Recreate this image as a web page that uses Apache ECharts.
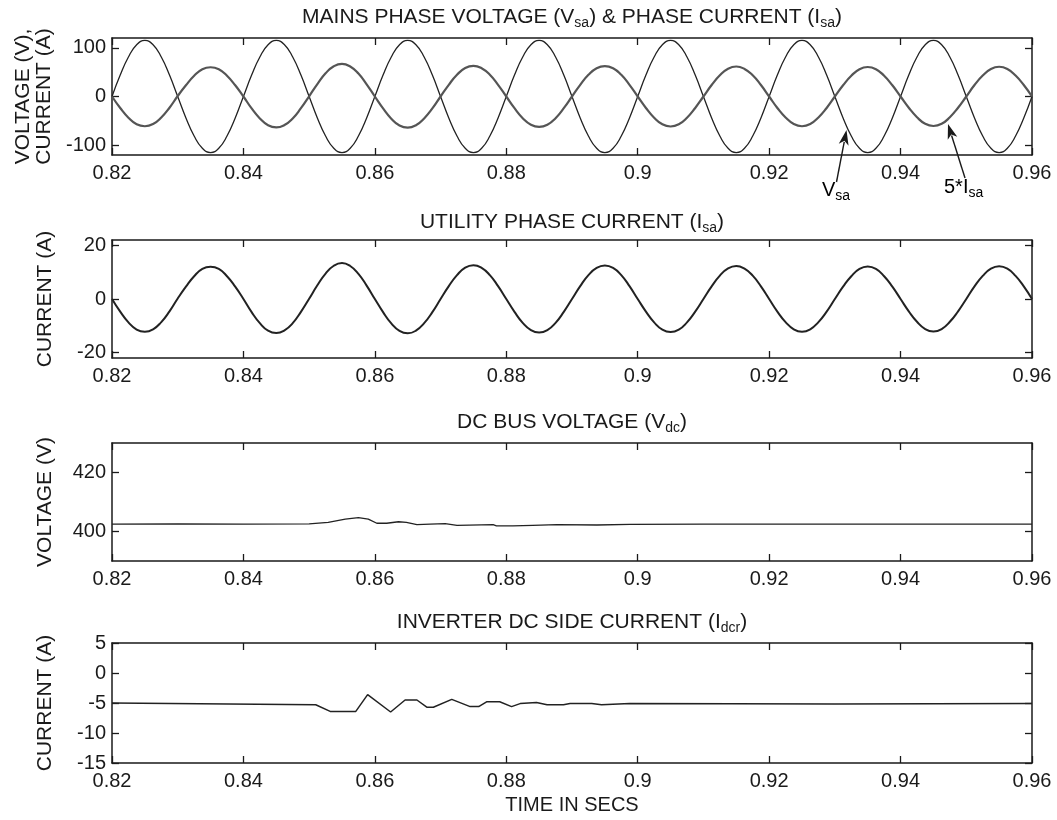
<!DOCTYPE html>
<html><head><meta charset="utf-8">
<script src="https://cdn.jsdelivr.net/npm/echarts@6/dist/echarts.min.js"></script>
<style>html,body{margin:0;padding:0;background:#fff}#c{width:1057px;height:820px}</style>
</head><body><div id="c"></div>
<script>
// ---- data ----
// sampled every 1.25 ms from 0.82 s
const sampleStart = 0.82;
const sampleStep = 0.00125;
const vsa = [
  0, 44, 81, 106, 115, 106, 81, 44, 0, -44, -81, -106, -115, -106, -81, -44,
  0, 44, 81, 106, 115, 106, 81, 44, 0, -44, -81, -106, -115, -106, -81, -44,
  0, 44, 81, 106, 115, 106, 81, 44, 0, -44, -81, -106, -115, -106, -81, -44,
  0, 44, 81, 106, 115, 106, 81, 44, 0, -44, -81, -106, -115, -106, -81, -44,
  0, 44, 81, 106, 115, 106, 81, 44, 0, -44, -81, -106, -115, -106, -81, -44,
  0, 44, 81, 106, 115, 106, 81, 44, 0, -44, -81, -106, -115, -106, -81, -44,
  0, 44, 81, 106, 115, 106, 81, 44, 0, -44, -81, -106, -115, -106, -81, -44,
  0
];
const isa = [
  0, -4.7, -8.7, -11.4, -12.2, -11.3, -8.6, -4.6, 0.2, 4.6, 8.5, 11.2, 12.0, 11.2, 8.5, 4.6,
  0, -4.9, -9.0, -11.8, -12.7, -11.7, -9.0, -4.8, 0.1, 5.1, 9.5, 12.4, 13.4, 12.3, 9.4, 5.0,
  0, -4.9, -9.1, -11.9, -12.8, -11.8, -9.0, -4.9, 0, 4.8, 8.9, 11.7, 12.6, 11.6, 8.9, 4.8,
  0, -4.8, -8.9, -11.6, -12.5, -11.6, -8.9, -4.8, 0, 4.8, 8.9, 11.6, 12.5, 11.6, 8.9, 4.8,
  0, -4.7, -8.7, -11.4, -12.3, -11.4, -8.7, -4.7, 0, 4.7, 8.7, 11.4, 12.3, 11.3, 8.7, 4.7,
  0, -4.7, -8.6, -11.3, -12.2, -11.3, -8.6, -4.7, 0, 4.6, 8.5, 11.2, 12.1, 11.2, 8.5, 4.6,
  0, -4.6, -8.5, -11.2, -12.1, -11.2, -8.5, -4.6, 0, 4.7, 8.6, 11.3, 12.2, 11.3, 8.6, 4.7,
  0
];
const isaScale = 5; // plotted as 5*Isa in the top panel

const vdcTime = [0.82, 0.83, 0.84, 0.85, 0.8529, 0.8555, 0.8575, 0.8590, 0.8603, 0.8618, 0.8636, 0.8648, 0.8664, 0.8684, 0.8707, 0.8725, 0.878, 0.8785, 0.881, 0.884, 0.8877, 0.8938, 0.8988, 0.91, 0.93, 0.95, 0.96];
const vdcVal  = [402.5, 402.6, 402.5, 402.6, 403.1, 404.2, 404.7, 404.2, 402.8, 402.8, 403.3, 403.1, 402.3, 402.5, 402.7, 402.1, 402.3, 401.9, 401.9, 402.1, 402.3, 402.2, 402.4, 402.5, 402.5, 402.5, 402.5];

const idcTime = [0.82, 0.8203, 0.851, 0.8532, 0.8571, 0.8589, 0.8624, 0.8646, 0.8664, 0.8679, 0.8689, 0.8717, 0.8745, 0.8758, 0.8770, 0.8790, 0.8808, 0.8821, 0.8846, 0.8862, 0.8887, 0.8897, 0.8930, 0.8945, 0.8988, 0.93, 0.96];
const idcVal  = [-5.0, -5.3, -5.3, -6.4, -6.4, -3.6, -6.5, -4.5, -4.5, -5.7, -5.7, -4.4, -5.6, -5.6, -4.8, -4.8, -5.6, -5.1, -4.9, -5.3, -5.3, -5.1, -5.1, -5.3, -5.1, -5.15, -5.1];

const xTicks = [0.82, 0.84, 0.86, 0.88, 0.90, 0.92, 0.94, 0.96];
const yTicks = [
  [-100, 0, 100],
  [-20, 0, 20],
  [400, 420],
  [-15, -10, -5, 0, 5]
];
const yRanges = [[-120, 120], [-22, 22], [390, 430], [-15, 5]];
const yNames = ['VOLTAGE (V),\nCURRENT (A)', 'CURRENT (A)', 'VOLTAGE (V)', 'CURRENT (A)'];
const titles = [
  '{a|MAINS PHASE VOLTAGE (V}{s|sa}{a|) & PHASE CURRENT (I}{s|sa}{a|)}',
  '{a|UTILITY PHASE CURRENT (I}{s|sa}{a|)}',
  '{a|DC BUS VOLTAGE (V}{s|dc}{a|)}',
  '{a|INVERTER DC SIDE CURRENT (I}{s|dcr}{a|)}'
];
const xName = 'TIME IN SECS';

// ---- build ----
const FONT = '"Liberation Sans", Arial, Helvetica, sans-serif';
const INK = '#1a1a1a';
const gridBoxes = [
  {left: 112, top: 38, width: 920, height: 117, outerBoundsMode: 'none', containLabel: false},
  {left: 112, top: 240, width: 920, height: 118, outerBoundsMode: 'none', containLabel: false},
  {left: 112, top: 443, width: 920, height: 118, outerBoundsMode: 'none', containLabel: false},
  {left: 112, top: 643, width: 920, height: 120, outerBoundsMode: 'none', containLabel: false}
];
const titleTops = [4, 209, 409, 609];

const sampleT = vsa.map((_, k) => +(sampleStart + k * sampleStep).toFixed(5));
const vsaPts = vsa.map((v, k) => [sampleT[k], v]);
const isa5Pts = isa.map((v, k) => [sampleT[k], v * isaScale]);
const isaPts = isa.map((v, k) => [sampleT[k], v]);
const vdcPts = vdcTime.map((t, k) => [t, vdcVal[k]]);
const idcPts = idcTime.map((t, k) => [t, idcVal[k]]);

const axisLine = {show: true, onZero: false, lineStyle: {color: INK, width: 1.5}};
const tickStyle = {color: INK, width: 1.3};

const xAxis = [], yAxis = [];
gridBoxes.forEach((g, i) => {
  xAxis.push({
    type: 'value', gridIndex: i, min: 0.82, max: 0.96, position: 'bottom',
    axisLine,
    axisTick: {show: true, inside: true, length: 7, customValues: xTicks, lineStyle: tickStyle},
    axisLabel: {customValues: xTicks, formatter: v => String(+(+v).toFixed(2)), fontFamily: FONT, fontSize: 20, color: INK, margin: 8},
    splitLine: {show: false},
    name: i === 3 ? xName : '', nameLocation: 'middle', nameGap: 32,
    nameTextStyle: {fontFamily: FONT, fontSize: 20, color: INK}
  });
  xAxis.push({
    type: 'value', gridIndex: i, min: 0.82, max: 0.96, position: 'top',
    axisLine,
    axisTick: {show: true, inside: true, length: 7, customValues: xTicks, lineStyle: tickStyle},
    axisLabel: {show: false}, splitLine: {show: false}
  });
  yAxis.push({
    type: 'value', gridIndex: i, min: yRanges[i][0], max: yRanges[i][1], position: 'left',
    axisLine,
    axisTick: {show: true, inside: true, length: 7, customValues: yTicks[i], lineStyle: tickStyle},
    axisLabel: {customValues: yTicks[i], fontFamily: FONT, fontSize: 20, color: INK, margin: 6},
    splitLine: {show: false},
    name: yNames[i], nameLocation: 'middle', nameRotate: 90, nameGap: i === 0 ? 56 : 56,
    nameTextStyle: {fontFamily: FONT, fontSize: 21, color: INK, lineHeight: 21}
  });
  yAxis.push({
    type: 'value', gridIndex: i, min: yRanges[i][0], max: yRanges[i][1], position: 'right',
    axisLine,
    axisTick: {show: true, inside: true, length: 7, customValues: yTicks[i], lineStyle: tickStyle},
    axisLabel: {show: false}, splitLine: {show: false}
  });
});

const lineBase = {type: 'line', showSymbol: false, symbol: 'none', animation: false, silent: true};
const series = [
  Object.assign({}, lineBase, {name: 'Vsa', xAxisIndex: 0, yAxisIndex: 0, data: vsaPts, smooth: 0.5, lineStyle: {color: '#222', width: 1.3}}),
  Object.assign({}, lineBase, {name: '5*Isa', xAxisIndex: 0, yAxisIndex: 0, data: isa5Pts, smooth: 0.5, lineStyle: {color: '#555', width: 2.2}}),
  Object.assign({}, lineBase, {name: 'Isa', xAxisIndex: 2, yAxisIndex: 2, data: isaPts, smooth: 0.5, lineStyle: {color: '#222', width: 2}}),
  Object.assign({}, lineBase, {name: 'Vdc', xAxisIndex: 4, yAxisIndex: 4, data: vdcPts, lineStyle: {color: '#222', width: 1.3}}),
  Object.assign({}, lineBase, {name: 'Idcr', xAxisIndex: 6, yAxisIndex: 6, data: idcPts, lineStyle: {color: '#222', width: 1.5}})
];

const richTitle = {
  a: {fontFamily: FONT, fontSize: 21, fontWeight: 'normal', color: INK, lineHeight: 24},
  s: {fontFamily: FONT, fontSize: 14, fontWeight: 'normal', color: INK, padding: [12, 0, 0, 0]}
};
const title = titles.map((t, i) => ({
  text: t, left: 572, top: titleTops[i], textAlign: 'center', padding: 0,
  textStyle: {fontWeight: 'normal', fontFamily: FONT, rich: richTitle}
}));

function arrow(tail, head) {
  const dx = head[0] - tail[0], dy = head[1] - tail[1];
  const len = Math.hypot(dx, dy), ux = dx / len, uy = dy / len;
  const L = 15, W = 5;
  const bx = head[0] - ux * L, by = head[1] - uy * L;
  return [
    {type: 'line', shape: {x1: tail[0], y1: tail[1], x2: bx + ux * 3, y2: by + uy * 3}, style: {stroke: INK, lineWidth: 1.4}},
    {type: 'polygon', shape: {points: [head, [bx - uy * W, by + ux * W], [bx + ux * 4, by + uy * 4], [bx + uy * W, by - ux * W]]}, style: {fill: INK}}
  ];
}
const annRich = {
  a: {fontFamily: FONT, fontSize: 20, color: INK, lineHeight: 24},
  s: {fontFamily: FONT, fontSize: 14, color: INK, padding: [12, 0, 0, 0]}
};
const graphic = [].concat(
  arrow([836.5, 182], [846.5, 130]),
  arrow([965, 178], [948, 124]),
  [
    {type: 'text', left: 822, top: 180, style: {text: '{a|V}{s|sa}', rich: annRich}},
    {type: 'text', left: 944, top: 177, style: {text: '{a|5*I}{s|sa}', rich: annRich}}
  ]
);

const chart = echarts.init(document.getElementById('c'), null, {renderer: 'canvas'});
chart.setOption({
  backgroundColor: '#ffffff',
  animation: false,
  title, grid: gridBoxes, xAxis, yAxis, series, graphic
});
</script>
</body></html>
